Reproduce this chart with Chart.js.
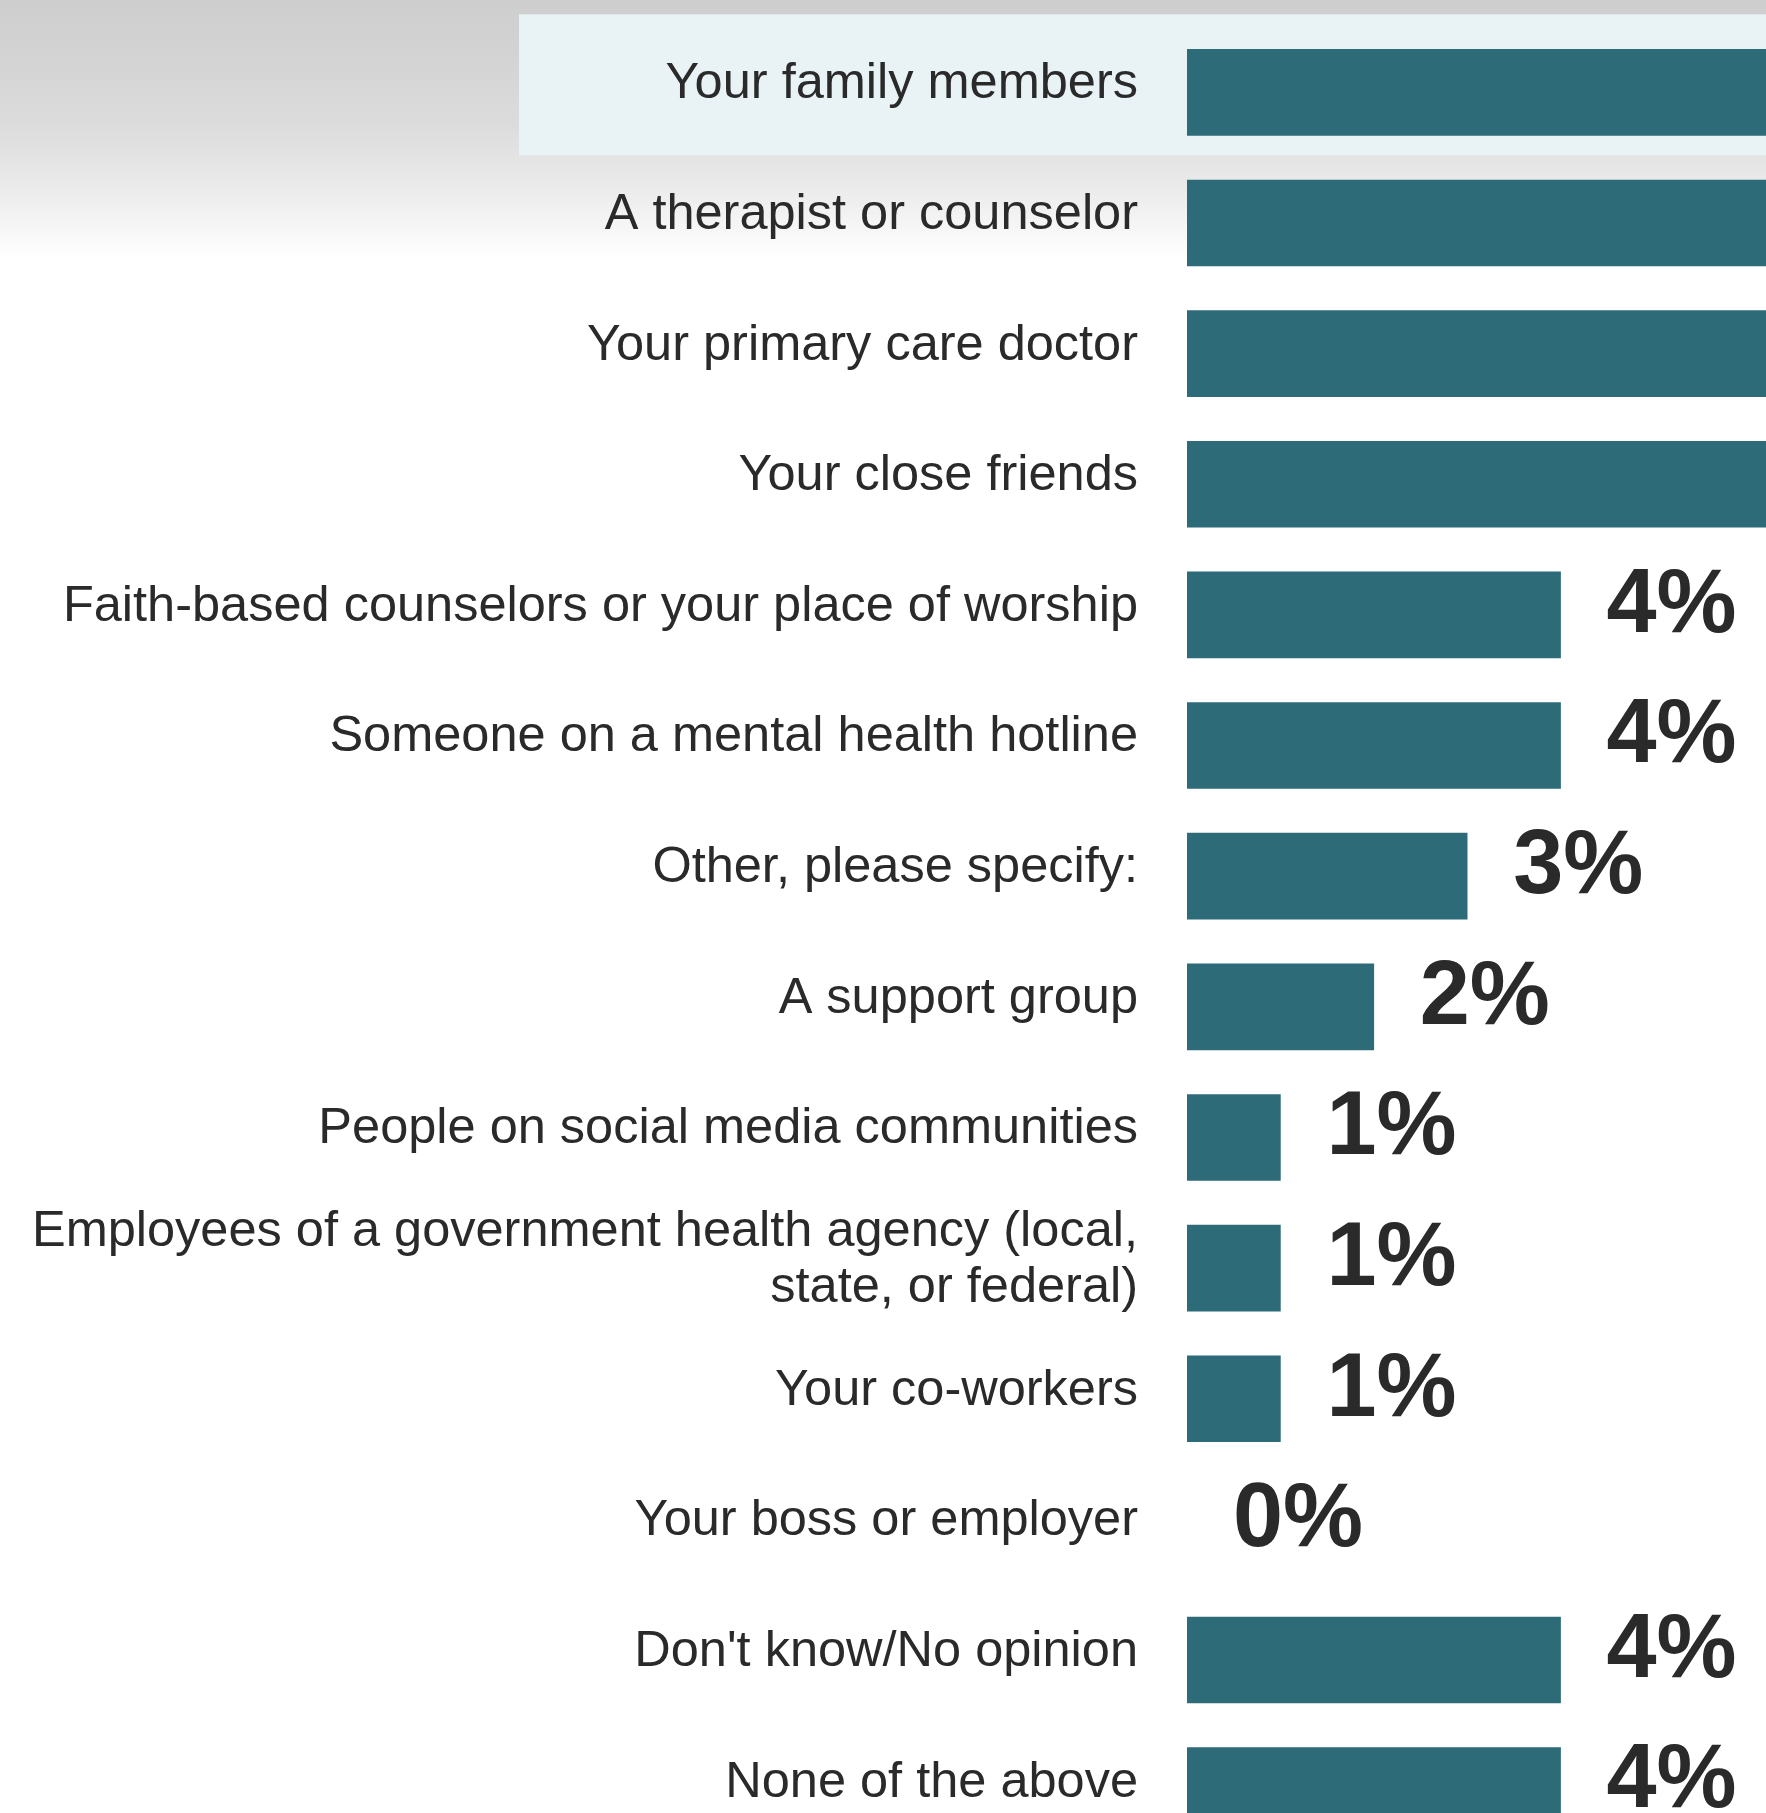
<!DOCTYPE html>
<html>
<head>
<meta charset="utf-8">
<script src="https://cdn.jsdelivr.net/npm/chart.js@4.4.1/dist/chart.umd.min.js"></script>
<style>
  html, body { margin: 0; padding: 0; background: #ffffff; overflow: hidden; }
  #wrap { width: 1766px; height: 1856px; }
</style>
</head>
<body>
<div id="wrap"><canvas id="chart" width="1766" height="1856"></canvas></div>
<script>
// Survey answers: who people would turn to
const categories = [
  'Your family members',
  'A therapist or counselor',
  'Your primary care doctor',
  'Your close friends',
  'Faith-based counselors or your place of worship',
  'Someone on a mental health hotline',
  'Other, please specify:',
  'A support group',
  'People on social media communities',
  ['Employees of a government health agency (local,', 'state, or federal)'],
  'Your co-workers',
  'Your boss or employer',
  "Don't know/No opinion",
  'None of the above'
];

// Share of respondents, in percent
const shares = [30, 18, 15, 13, 4, 4, 3, 2, 1, 1, 1, 0, 4, 4];

// Visible extent of the value axis, in percent
const axisMax = 6.2;

const FONT = '"Liberation Sans", Arial, Helvetica, sans-serif';
const BAR_COLOR = '#2c6b77';
const TEXT_COLOR = '#2a2a2a';
const TEXT_LIFT = -8;      // labels sit slightly above the bar centre
const VALUE_GAP = 46;      // space between bar end and its value label

// Grey sheen at the top and the highlighted first row
const backdrop = {
  id: 'backdrop',
  beforeDraw(chart) {
    const { ctx, width } = chart;
    ctx.save();
    const g = ctx.createLinearGradient(0, 0, 0, 260);
    g.addColorStop(0.00, '#cecece');
    g.addColorStop(0.25, '#d4d4d4');
    g.addColorStop(0.48, '#dcdcdc');
    g.addColorStop(0.63, '#e5e5e5');
    g.addColorStop(0.78, '#efefef');
    g.addColorStop(0.90, '#f8f8f8');
    g.addColorStop(1.00, '#ffffff');
    ctx.fillStyle = g;
    ctx.fillRect(0, 0, width, 260);

    const y0 = chart.scales.y.getPixelForValue(0) + TEXT_LIFT;
    ctx.fillStyle = '#e9f3f5';
    ctx.fillRect(519, y0 - 70, width - 519, 141);
    ctx.restore();
  }
};

// Percent labels to the right of each bar
const valueLabels = {
  id: 'valueLabels',
  afterDatasetsDraw(chart) {
    const { ctx } = chart;
    const meta = chart.getDatasetMeta(0);
    ctx.save();
    ctx.font = 'bold 90px ' + FONT;
    ctx.fillStyle = TEXT_COLOR;
    ctx.textAlign = 'left';
    ctx.textBaseline = 'middle';
    meta.data.forEach((bar, i) => {
      const v = chart.data.datasets[0].data[i];
      ctx.fillText(Math.round(v) + '%', bar.x + VALUE_GAP, bar.y + TEXT_LIFT);
    });
    ctx.restore();
  }
};

new Chart(document.getElementById('chart'), {
  type: 'bar',
  data: {
    labels: categories,
    datasets: [{
      data: shares,
      backgroundColor: (c) => (c.raw > 0 ? BAR_COLOR : 'rgba(0,0,0,0)'),
      borderWidth: 0,
      barThickness: 86
    }]
  },
  options: {
    indexAxis: 'y',
    responsive: false,
    animation: false,
    events: [],
    layout: { padding: { top: 27, right: 0, bottom: 0, left: 0 } },
    plugins: {
      legend: { display: false },
      tooltip: { enabled: false }
    },
    scales: {
      x: {
        display: false,
        min: 0,
        max: axisMax
      },
      y: {
        grid: { display: false, drawTicks: false },
        border: { display: false },
        ticks: {
          color: TEXT_COLOR,
          padding: 49,
          labelOffset: TEXT_LIFT,
          autoSkip: false,
          font: { family: FONT, size: 50.5, lineHeight: 1.11 }
        },
        afterFit(scale) {
          scale.width = 1187;
          // the rows fill the full height; no extra room for end labels
          scale.paddingTop = 0;
          scale.paddingBottom = 0;
        }
      }
    }
  },
  plugins: [backdrop, valueLabels]
});
</script>
</body>
</html>
